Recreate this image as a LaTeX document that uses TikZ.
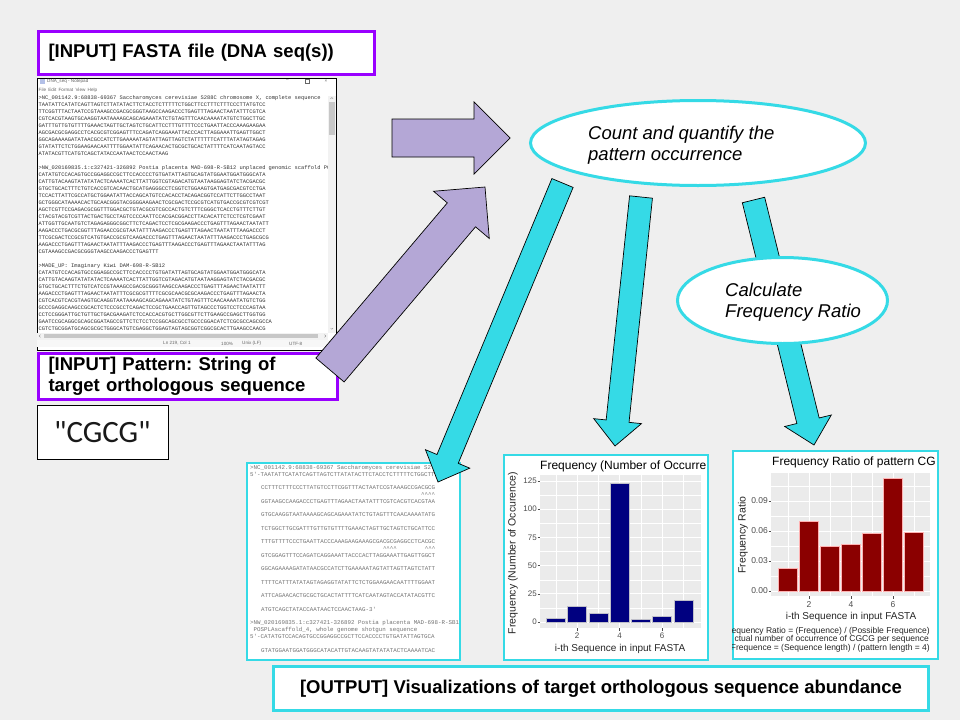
\documentclass[tikz,border=0pt]{standalone}
\usepackage{fontspec}
\setmainfont{Liberation Sans}
\setmonofont{Liberation Mono}
\newfontfamily\carlito{Carlito}
\usetikzlibrary{positioning, calc, shapes.geometric}
\frenchspacing

\definecolor{slidebg}{HTML}{EFEFEF}
\definecolor{inpurple}{HTML}{9900FF}
\definecolor{lavender}{HTML}{B4A7D6}
\definecolor{aqua}{HTML}{35DAE6}
\definecolor{plotbg}{HTML}{EBEBEB}
\definecolor{navybar}{HTML}{000080}
\definecolor{redbar}{HTML}{8B0000}
\definecolor{axisgray}{HTML}{4D4D4D}

\newcommand\fsz[2]{\fontsize{#1}{#2}\selectfont}
% fat block arrow: style, tail, tip, half shaft, half head, head length
\newcommand\blockarrow[6]{%
  \coordinate (ba) at ($(#3)!#6!(#2)$);
  \draw[#1] ($(#2)!#4!90:(#3)$) -- ($(ba)!#4!90:(#3)$) -- ($(ba)!#5!90:(#3)$)
    -- (#3) -- ($(ba)!#5!-90:(#3)$) -- ($(ba)!#4!-90:(#3)$)
    -- ($(#2)!#4!-90:(#3)$) -- cycle;}

\begin{document}
\begin{tikzpicture}[x=1pt, y=-1pt,
  inbox/.style={draw=inpurple, line width=3pt, fill=white,
    inner xsep=10.5pt, inner ysep=0pt, align=left, font=\fsz{18.5}{21}\bfseries},
  bubble/.style={ellipse, draw=aqua, line width=3pt, fill=white, inner sep=0pt},
  bubbletext/.style={anchor=west, inner sep=0pt, align=left, font=\fsz{18.5}{21}\itshape},
  outpanel/.style={draw=aqua, line width=1.5pt, fill=white, anchor=north west, inner sep=0pt},
  purplearrow/.style={fill=lavender, draw=black, line width=0.7pt},
  cyanarrow/.style={fill=aqua, draw=black, line width=0.7pt},
  padline/.style={anchor=west, inner sep=0pt, font=\ttfamily\fsz{5.4}{6}, text=black!80},
  padui/.style={anchor=west, inner sep=0pt, font=\fsz{4.6}{5}, text=black!60},
  seqline/.style={anchor=west, inner sep=0pt, font=\ttfamily\fsz{5.8}{6}, text=black!55},
  axislbl/.style={inner sep=0pt, font=\fsz{8}{8}, text=axisgray},
  gridmajor/.style={white, line width=0.8pt},
  gridminor/.style={white, line width=0.35pt},
  tick/.style={axisgray, line width=0.5pt}]

\useasboundingbox (0,0) rectangle (960,720);
\fill[slidebg] (0,0) rectangle (960,720);

% inputs
\node[inbox, minimum width=336pt, minimum height=43pt, text width=315pt, anchor=north west] (fasta)
  at (36.5,29.5) {[INPUT] FASTA file (DNA seq(s))};
\node[draw=black, line width=0.6pt, fill=white, inner sep=0pt,
  minimum width=299pt, minimum height=272pt, below=2.5pt of fasta.south west,
  anchor=north west] (notepad) {};

% notepad window
\fill[cyan!40!blue!30] (40,78.5) rectangle (44.5,83.5);
\node[padui] at (47,81) {DNA\_seq - Notepad};
\node[padui] at (286,80.5) {--};
\draw[black!60, line width=0.3pt] (305,79) rectangle (309.5,83);
\node[padui] at (324.5,81) {×};
\node[padui] at (38.5,90.5) {File\enspace Edit\enspace Format\enspace View\enspace Help};
\foreach \ln [count=\i from 0] in {
  {>NC\_001142.9:68838-69367 Saccharomyces cerevisiae S288C chromosome X, complete sequence},
  TAATATTCATATCAGTTAGTCTTATATACTTCTACCTCTTTTTCTGGCTTCCTTTCTTTCCCTTATGTCC,
  TTCGGTTTACTAATCCGTAAAGCCGACGCGGGTAAGCCAAGACCCTGAGTTTAGAACTAATATTTCGTCA,
  CGTCACGTAAGTGCAAGGTAATAAAAGCAGCAGAAATATCTGTAGTTTCAACAAAATATGTCTGGCTTGC,
  GATTTGTTGTGTTTTGAAACTAGTTGCTAGTCTGCATTCCTTTGTTTTCCCTGAATTACCCAAAGAAGAA,
  AGCGACGCGAGGCCTCACGCGTCGGAGTTTCCAGATCAGGAAATTACCCACTTAGGAAATTGAGTTGGCT,
  GGCAGAAAAGATATAACGCCATCTTGAAAAATAGTATTAGTTAGTCTATTTTTTCATTTATATAGTAGAG,
  GTATATTCTCTGGAAGAACAATTTTGGAATATTCAGAACACTGCGCTGCACTATTTTCATCAATAGTACC,
  ATATACGTTCATGTCAGCTATACCAATAACTCCAACTAAG,
  {},
  {>NW\_020169835.1:c327421-326892 Postia placenta MAD-698-R-SB12 unplaced genomic scaffold PO},
  CATATGTCCACAGTGCCGGAGGCCGCTTCCACCCCTGTGATATTAGTGCAGTATGGAATGGATGGGCATA,
  CATTGTACAAGTATATATACTCAAAATCACTTATTGGTCGTAGACATGTAATAAGGAGTATCTACGACGC,
  GTGCTGCACTTTCTGTCACCGTCACAACTGCATGAGGGCCTCGGTCTGGAAGTGATGAGCGACGTCCTGA,
  TCCACTTATTCGCCATGCTGGAATATTACCAGCATGTCCACACCTACAGACGGTCCATTCTTGGCCTAAT,
  GCTGGGCATAAAACACTGCAACGGGTACGGGGAAGAACTCGCGACTCCGCGTCATGTGACCGCGTCGTCGT,
  AGCTCGTTCCGAGACGCGGTTTGGACGCTGTACGCGTCGCCACTGTCTTTCGGGCTCACCTGTTTCTTGT,
  CTACGTACGTCGTTACTGACTGCCTAGTCCCCAATTCCACGACGGACCTTACACATTCTCCTCGTCGAAT,
  ATTGGTTGCAATGTCTAGAGAGGGCGGCTTCTCAGACTCCTCGCGAAGACCCTGAGTTTAGAACTAATATT,
  AAGACCCTGACGCGGTTTAGAACCGCGTAATATTTAAGACCCTGAGTTTAGAACTAATATTTAAGACCCT,
  TTCGCGACTCCGCGTCATGTGACCGCGTCAAGACCCTGAGTTTAGAACTAATATTTAAGACCCTGAGCGCG,
  AAGACCCTGAGTTTAGAACTAATATTTAAGACCCTGAGTTTAAGACCCTGAGTTTAGAACTAATATTTAG,
  CGTAAAGCCGACGCGGGTAAGCCAAGACCCTGAGTTT,
  {},
  {>MADE\_UP: Imaginary Kiwi DAM-698-R-SB12},
  CATATGTCCACAGTGCCGGAGGCCGCTTCCACCCCTGTGATATTAGTGCAGTATGGAATGGATGGGCATA,
  CATTGTACAAGTATATATACTCAAAATCACTTATTGGTCGTAGACATGTAATAAGGAGTATCTACGACGC,
  GTGCTGCACTTTCTGTCATCCGTAAAGCCGACGCGGGTAAGCCAAGACCCTGAGTTTAGAACTAATATTT,
  AAGACCCTGAGTTTAGAACTAATATTTCGCGCGTTTTCGCGCAACGCGCAAGACCCTGAGTTTAGAACTA,
  CGTCACGTCACGTAAGTGCAAGGTAATAAAAGCAGCAGAAATATCTGTAGTTTCAACAAAATATGTCTGG,
  GCCCGAGGCAAGCCGCACTCTCCCGCCTCAGACTCCGCTGAACCAGTTGTAGCCCTGGTCCTCCCAGTAA,
  CCTCCGGGATTGCTGTTGCTGACGAAGATCTCCACCACGTGCTTGGCGTTCTTGAAGCCGAGCTTGGTGG,
  GAATCCGCAGGCGCAGCGGATAGCCGTTCTCTCCTCCGGCAGCGCCTGCCCGGACATCTCGCGCCAGCGCCA,
  CGTCTGCGGATGCAGCGCGCTGGGCATGTCGAGGCTGGAGTAGTAGCGGTCGGCGCACTTGAAGCCAACG}
  \node[padline] at (38.5,98+7*\i) {\ln};
\fill[black!5] (328,95.5) rectangle (335.6,332.5);
\fill[black!22] (329,101.5) rectangle (335,135);
\draw[black!50, line width=0.3pt] (330.5,98.8) -- (331.8,97.5) -- (333.1,98.8)
  (330.5,328) -- (331.8,329.3) -- (333.1,328);
\fill[black!5] (37.4,332.5) rectangle (328,339.5);
\fill[black!22] (44,333.8) rectangle (318,338.2);
\draw[black!50, line width=0.3pt] (40.5,334.7) -- (39.2,336) -- (40.5,337.3)
  (324.5,334.7) -- (325.8,336) -- (324.5,337.3);
\fill[black!3] (37.4,339.5) rectangle (335.6,346.6);
\node[padui] at (163,343.5) {Ln 219, Col 1};
\node[padui] at (221,343.5) {100\%};
\node[padui] at (242,343.5) {Unix (LF)};
\node[padui] at (289,343.5) {UTF-8};

\node[inbox, minimum width=299pt, minimum height=46pt, text width=278pt,
  below=1.5pt of notepad.south west, anchor=north west] (pattern)
  {[INPUT] Pattern: String of\\target orthologous sequence};
\node[draw=black, line width=0.8pt, fill=white, inner sep=0pt,
  minimum width=131pt, minimum height=54pt, font=\carlito\fsz{31}{31}, text=black!90,
  below=4pt of pattern.south west, anchor=north west] (cgcg) {"CGCG"};

% arrows into the counting step
\coordinate (fastaout) at (392,138);
\coordinate (fastain) at (510,138);
\coordinate (patout) at (330,370);
\coordinate (patin) at (485,187);
\blockarrow{purplearrow}{fastaout}{fastain}{19pt}{36pt}{36pt}
\blockarrow{purplearrow}{patout}{patin}{18.5pt}{36.5pt}{36.5pt}

% outputs
\node[outpanel, minimum width=213pt, minimum height=197pt] (txtpanel) at (246,462) {};
\node[outpanel, minimum width=204pt, minimum height=205pt] (freqpanel) at (503,454) {};
\node[outpanel, minimum width=205pt, minimum height=208pt] (ratiopanel) at (732,450) {};
\node[draw=aqua, line width=3pt, fill=white, minimum width=655pt, minimum height=44pt,
  font=\fsz{18.5}{21}\bfseries] (output) at (601,688.5)
  {[OUTPUT] Visualizations of target orthologous sequence abundance};

% matched sequence text
\begin{scope}
\clip (txtpanel.north west) rectangle (txtpanel.south east);
\node[seqline] at (250,468) {>NC\_001142.9:68838-69367 Saccharomyces cerevisiae S2};
\node[seqline] at (250,474.5) {5'-TAATATTCATATCAGTTAGTCTTATATACTTCTACCTCTTTTTCTGGCTT};
\foreach \ln [count=\i from 0] in {
  CCTTTCTTTCCCTTATGTCCTTCGGTTTACTAATCCGTAAAGCCGACGCG,
  GGTAAGCCAAGACCCTGAGTTTAGAACTAATATTTCGTCACGTCACGTAA,
  GTGCAAGGTAATAAAAGCAGCAGAAATATCTGTAGTTTCAACAAAATATG,
  TCTGGCTTGCGATTTGTTGTGTTTTGAAACTAGTTGCTAGTCTGCATTCC,
  TTTGTTTTCCCTGAATTACCCAAAGAAGAAAGCGACGCGAGGCCTCACGC,
  GTCGGAGTTTCCAGATCAGGAAATTACCCACTTAGGAAATTGAGTTGGCT,
  GGCAGAAAAGATATAACGCCATCTTGAAAAATAGTATTAGTTAGTCTATT,
  TTTTCATTTATATAGTAGAGGTATATTCTCTGGAAGAACAATTTTGGAAT,
  ATTCAGAACACTGCGCTGCACTATTTTCATCAATAGTACCATATACGTTC,
  ATGTCAGCTATACCAATAACTCCAACTAAG-3'}
  \node[seqline] at (261,488+13.45*\i) {\ln};
\node[seqline] at (421,494.5) {\^{}\^{}\^{}\^{}};
\node[seqline] at (382.8,548.5) {\^{}\^{}\^{}\^{}};
\node[seqline] at (424.6,548.5) {\^{}\^{}\^{}};
\node[seqline] at (250,623) {>NW\_020169835.1:c327421-326892 Postia placenta MAD-698-R-SB1};
\node[seqline] at (250,629.5) {\ POSPLAscaffold\_4, whole genome shotgun sequence};
\node[seqline] at (250,636.5) {5'-CATATGTCCACAGTGCCGGAGGCCGCTTCCACCCCTGTGATATTAGTGCA};
\node[seqline] at (261,650.5) {GTATGGAATGGATGGGCATACATTGTACAAGTATATATACTCAAAATCAC};
\end{scope}

% frequency chart
\begin{scope}
\clip (freqpanel.north west) rectangle (freqpanel.south east);
\fill[plotbg] (540,475) rectangle (701,628);
\foreach \v in {12.5,37.5,...,112.5} \draw[gridminor] (540,622-1.128*\v) -- (701,622-1.128*\v);
\foreach \i in {1,3,5,7} \draw[gridminor] (534.5+21.25*\i,475) -- (534.5+21.25*\i,628);
\foreach \v in {0,25,...,125} {
  \draw[gridmajor] (540,622-1.128*\v) -- (701,622-1.128*\v);
  \draw[tick] (537.5,622-1.128*\v) -- (540,622-1.128*\v);
  \node[axislbl, anchor=east] at (537,622-1.128*\v) {\v};}
\foreach \i in {2,4,6} {
  \draw[gridmajor] (534.5+21.25*\i,475) -- (534.5+21.25*\i,628);
  \draw[tick] (534.5+21.25*\i,628) -- (534.5+21.25*\i,630.5);
  \node[axislbl] at (534.5+21.25*\i,636) {\i};}
\foreach \v [count=\i] in {3.5,14,8,123,2.4,5,19.5}
  \draw[fill=navybar, draw=blue!15!black!25, line width=0.5pt]
    (534.5+21.25*\i-9.5,622) rectangle (534.5+21.25*\i+9.5,622-1.128*\v);
\node[anchor=west, inner sep=0pt, font=\fsz{12}{12}] at (540,466) {Frequency (Number of Occurre};
\node[rotate=90, inner sep=0pt, font=\fsz{10.5}{11}, text=black!85] at (513,553)
  {Frequency (Number of Occurence)};
\node[inner sep=0pt, font=\fsz{10}{10}, text=black!85] at (620,649) {i-th Sequence in input FASTA};
\end{scope}

% frequency ratio chart
\begin{scope}
\clip (ratiopanel.north west) rectangle (ratiopanel.south east);
\fill[plotbg] (771,473) rectangle (930,596);
\foreach \v in {0.015,0.045,0.075,0.105} \draw[gridminor] (771,591-1000*\v) -- (930,591-1000*\v);
\foreach \i in {1,3,5,7} \draw[gridminor] (767+21*\i,473) -- (767+21*\i,596);
\foreach \v/\t in {0/0.00,0.03/0.03,0.06/0.06,0.09/0.09} {
  \draw[gridmajor] (771,591-1000*\v) -- (930,591-1000*\v);
  \draw[tick] (768.5,591-1000*\v) -- (771,591-1000*\v);
  \node[axislbl, anchor=east, font=\fsz{8.5}{8.5}] at (768,591-1000*\v) {\t};}
\foreach \i in {2,4,6} {
  \draw[gridmajor] (767+21*\i,473) -- (767+21*\i,596);
  \draw[tick] (767+21*\i,596) -- (767+21*\i,598.5);
  \node[axislbl, font=\fsz{8.5}{8.5}] at (767+21*\i,605) {\i};}
\foreach \v [count=\i] in {0.023,0.070,0.045,0.047,0.058,0.113,0.059}
  \draw[fill=redbar, draw=red!30!white, line width=0.5pt]
    (767+21*\i-9.5,591) rectangle (767+21*\i+9.5,591-1000*\v);
\node[anchor=west, inner sep=0pt, font=\fsz{12}{12}] at (772,462) {Frequency Ratio of pattern CG};
\node[rotate=90, inner sep=0pt, font=\fsz{10.5}{11}, text=black!85] at (743,535) {Frequency Ratio};
\node[inner sep=0pt, font=\fsz{10}{10}, text=black!85] at (851,617) {i-th Sequence in input FASTA};
\node[anchor=east, inner sep=0pt, font=\fsz{8.5}{8.5}, text=black!85] at (930,631)
  {equency Ratio = (Frequence) / (Possible Frequence)};
\node[anchor=east, inner sep=0pt, font=\fsz{8.5}{8.5}, text=black!85] at (929,639.5)
  {ctual number of occurrence of CGCG per sequence};
\node[anchor=east, inner sep=0pt, font=\fsz{8.5}{8.5}, text=black!85] at (930,648)
  {Frequence = (Sequence length) / (pattern length = 4)};
\end{scope}

% processing steps
\coordinate (cnt1) at (562.5,183);
\coordinate (txtin) at (438,482);
\coordinate (cnt2) at (641,197);
\coordinate (freqin) at (615,446);
\coordinate (cnt3) at (753.5,200);
\coordinate (ratioin) at (814,445);
\blockarrow{cyanarrow}{cnt1}{txtin}{11.5pt}{24pt}{25pt}
\blockarrow{cyanarrow}{cnt2}{freqin}{11.5pt}{24pt}{25pt}
\blockarrow{cyanarrow}{cnt3}{ratioin}{11.5pt}{24pt}{25pt}

\node[bubble, minimum width=335pt, minimum height=85pt] (count) at (698,143) {};
\node[bubbletext] (counttext) at ([xshift=-110pt, yshift=-2pt]count.center)
  {Count and quantify the\\pattern occurrence};
\node[bubble, minimum width=210pt, minimum height=86pt] (ratio) at (782.5,300.5) {};
\node[bubbletext] (ratiotext) at ([xshift=-57.5pt, yshift=-1.5pt]ratio.center)
  {Calculate\\Frequency Ratio};
\end{tikzpicture}
\end{document}
